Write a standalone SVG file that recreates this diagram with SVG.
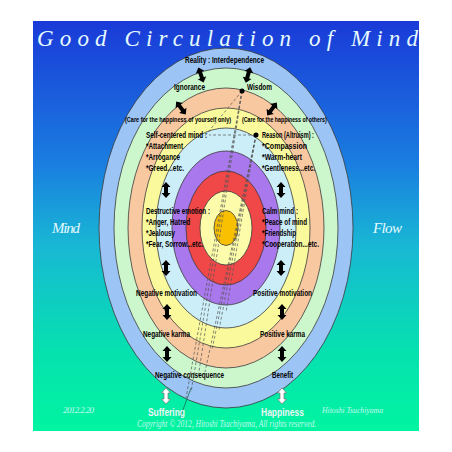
<svg xmlns="http://www.w3.org/2000/svg" xmlns:xlink="http://www.w3.org/1999/xlink" width="452" height="452" viewBox="0 0 452 452">
<defs>
<linearGradient id="bg" x1="0" y1="0" x2="0" y2="1">
<stop offset="0" stop-color="#1a3ad8"/>
<stop offset="0.35" stop-color="#1a7ee0"/>
<stop offset="0.55" stop-color="#18b8d4"/>
<stop offset="0.8" stop-color="#06e0b0"/>
<stop offset="1" stop-color="#00f5a0"/>
</linearGradient>
<path id="dbl" d="M0,-8 L4.5,-3 L2,-3 L2,3 L4.5,3 L0,8 L-4.5,3 L-2,3 L-2,-3 L-4.5,-3 Z"/>
<style>
.ring{stroke:#3a3a3a;stroke-width:0.8}
.t{font-family:"Liberation Sans",Arial,sans-serif;font-weight:bold;font-size:8.5px;fill:#000}
.s{font-family:"Liberation Sans",Arial,sans-serif;font-weight:bold;font-size:7px;fill:#000}
.big{font-family:"Liberation Sans",Arial,sans-serif;font-weight:bold;font-size:11.5px;fill:#eef4f4}
.sc{font-family:"Liberation Serif","Times New Roman",serif;font-style:italic;fill:#e6fbff}
.ar{fill:#000}
.wa{fill:#fff;stroke:#777;stroke-width:0.7}
.dash{stroke:#555;stroke-width:0.7;stroke-dasharray:3,2;fill:none}
</style>
</defs>
<rect x="0" y="0" width="452" height="452" fill="#fff"/>
<rect x="33" y="21" width="386" height="410" fill="url(#bg)"/>
<g id="rings">
<ellipse class="ring" cx="226" cy="228" rx="127" ry="180" fill="#9cc4f4"/>
<ellipse class="ring" cx="226" cy="228" rx="112" ry="160" fill="#ccf6cc"/>
<ellipse class="ring" cx="226" cy="228" rx="98" ry="140" fill="#f8c8a0"/>
<ellipse class="ring" cx="226" cy="228" rx="84" ry="120" fill="#fafa9c"/>
<ellipse class="ring" cx="226" cy="228" rx="70" ry="100" fill="#cceef8"/>
<ellipse class="ring" cx="226" cy="228" rx="54" ry="77" fill="#a878ec"/>
<ellipse class="ring" cx="226" cy="228" rx="40" ry="57" fill="#f04848"/>
<ellipse class="ring" cx="226" cy="228" rx="26" ry="37" fill="#fcfcaa"/>
<ellipse class="ring" cx="226" cy="228" rx="12" ry="17.5" fill="#f8c000"/>
</g>
<g id="connectors">
<line class="dash" x1="242" y1="91" x2="204" y2="137"/>
<line class="dash" x1="242" y1="91" x2="186" y2="398"/>
<line class="dash" x1="242" y1="91" x2="191" y2="392"/>
<line class="dash" x1="242" y1="91" x2="198" y2="378"/>
<line class="dash" x1="256" y1="135" x2="209" y2="135"/>
<line class="dash" x1="256" y1="135" x2="205" y2="372"/>
<line class="dash" x1="256" y1="135" x2="212" y2="350"/>
<line class="dash" x1="256" y1="135" x2="219" y2="330"/>
<line class="dash" x1="256" y1="135" x2="226" y2="312"/>
<line x1="191" y1="388" x2="180" y2="418" stroke="#1d6b55" stroke-width="0.8"/>
<circle cx="242" cy="91" r="2.5" fill="#000"/>
<circle cx="256" cy="135" r="2.5" fill="#000"/>
<use href="#dbl" class="ar" transform="translate(201,75) rotate(-19)"/>
<use href="#dbl" class="ar" transform="translate(248,75) rotate(16)"/>
<use href="#dbl" class="ar" transform="translate(181,108) rotate(-37)"/>
<use href="#dbl" class="ar" transform="translate(272,109) rotate(37)"/>
<use href="#dbl" class="ar" transform="translate(166,190)"/>
<use href="#dbl" class="ar" transform="translate(281,190)"/>
<use href="#dbl" class="ar" transform="translate(166,268)"/>
<use href="#dbl" class="ar" transform="translate(281,268)"/>
<use href="#dbl" class="ar" transform="translate(167,312)"/>
<use href="#dbl" class="ar" transform="translate(282,312)"/>
<use href="#dbl" class="ar" transform="translate(167,354)"/>
<use href="#dbl" class="ar" transform="translate(282,354)"/>
<use href="#dbl" class="wa" transform="translate(166,396)"/>
<use href="#dbl" class="wa" transform="translate(282,396)"/>
</g>
<g id="title"><text class="sc" x="37" y="46" font-size="23" textLength="381" lengthAdjust="spacing">Good Circulation of Mind</text></g>
<g id="mind"><text class="sc" x="52" y="233" font-size="15" textLength="28">Mind</text></g>
<g id="flow"><text class="sc" x="373" y="233" font-size="15" textLength="29">Flow</text></g>
<g id="reality"><text class="t" x="185" y="63" textLength="79" lengthAdjust="spacingAndGlyphs">Reality : Interdependence</text></g>
<g id="ignorance"><text class="t" x="174" y="90" textLength="31" lengthAdjust="spacingAndGlyphs">Ignorance</text></g>
<g id="wisdom"><text class="t" x="247" y="90" textLength="25" lengthAdjust="spacingAndGlyphs">Wisdom</text></g>
<g id="care-self"><text class="s" transform="translate(125,122) scale(0.79,1)">(Care for the happiness of yourself only)</text></g>
<g id="care-others"><text class="s" transform="translate(242,122) scale(0.756,1)">(Care for the happiness of others)</text></g>
<g id="self-centered">
<text class="t" x="146" y="138" textLength="61" lengthAdjust="spacingAndGlyphs">Self-centered mind :</text>
<text class="t" x="146" y="149" textLength="37" lengthAdjust="spacingAndGlyphs">*Attachment</text>
<text class="t" x="146" y="160" textLength="34" lengthAdjust="spacingAndGlyphs">*Arrogance</text>
<text class="t" x="146" y="171" textLength="38" lengthAdjust="spacingAndGlyphs">*Greed...etc.</text>
</g>
<g id="reason">
<text class="t" x="262" y="138" textLength="52" lengthAdjust="spacingAndGlyphs">Reason (Altruism) :</text>
<text class="t" x="262" y="149" textLength="45" lengthAdjust="spacingAndGlyphs">*Compassion</text>
<text class="t" x="262" y="160" textLength="40" lengthAdjust="spacingAndGlyphs">*Warm-heart</text>
<text class="t" x="262" y="171" textLength="53" lengthAdjust="spacingAndGlyphs">*Gentleness...etc.</text>
</g>
<g id="destructive">
<text class="t" x="146" y="214" textLength="64" lengthAdjust="spacingAndGlyphs">Destructive emotion :</text>
<text class="t" x="146" y="225" textLength="44" lengthAdjust="spacingAndGlyphs">*Anger, Hatred</text>
<text class="t" x="146" y="236" textLength="29" lengthAdjust="spacingAndGlyphs">*Jealousy</text>
<text class="t" x="146" y="247" textLength="57" lengthAdjust="spacingAndGlyphs">*Fear, Sorrow...etc.</text>
</g>
<g id="calm">
<text class="t" x="262" y="214" textLength="36" lengthAdjust="spacingAndGlyphs">Calm mind :</text>
<text class="t" x="262" y="225" textLength="45" lengthAdjust="spacingAndGlyphs">*Peace of mind</text>
<text class="t" x="262" y="236" textLength="34" lengthAdjust="spacingAndGlyphs">*Friendship</text>
<text class="t" x="262" y="247" textLength="57" lengthAdjust="spacingAndGlyphs">*Cooperation...etc.</text>
</g>
<g id="neg-motivation"><text class="t" x="136" y="296" textLength="61" lengthAdjust="spacingAndGlyphs">Negative motivation</text></g>
<g id="pos-motivation"><text class="t" x="253" y="296" textLength="59" lengthAdjust="spacingAndGlyphs">Positive motivation</text></g>
<g id="neg-karma"><text class="t" x="143" y="337" textLength="47" lengthAdjust="spacingAndGlyphs">Negative karma</text></g>
<g id="pos-karma"><text class="t" x="260" y="337" textLength="45" lengthAdjust="spacingAndGlyphs">Positive karma</text></g>
<g id="neg-consequence"><text class="t" x="155" y="378" textLength="69" lengthAdjust="spacingAndGlyphs">Negative consequence</text></g>
<g id="benefit"><text class="t" x="272" y="378" textLength="21" lengthAdjust="spacingAndGlyphs">Benefit</text></g>
<g id="suffering"><text class="big" x="148" y="416" textLength="37" lengthAdjust="spacingAndGlyphs">Suffering</text></g>
<g id="happiness"><text class="big" x="261" y="416" textLength="43" lengthAdjust="spacingAndGlyphs">Happiness</text></g>
<g id="footer">
<text class="sc" x="63" y="413" font-size="9" textLength="31" fill-opacity="0.85">2012.2.20</text>
<text class="sc" x="322" y="413" font-size="9" textLength="61" lengthAdjust="spacingAndGlyphs" fill-opacity="0.85">Hitoshi Tsuchiyama</text>
<text class="sc" x="137" y="427" font-size="9.5" textLength="179" lengthAdjust="spacingAndGlyphs" fill-opacity="0.85">Copyright © 2012, Hitoshi Tsuchiyama, All rights reserved.</text>
</g>
</svg>
